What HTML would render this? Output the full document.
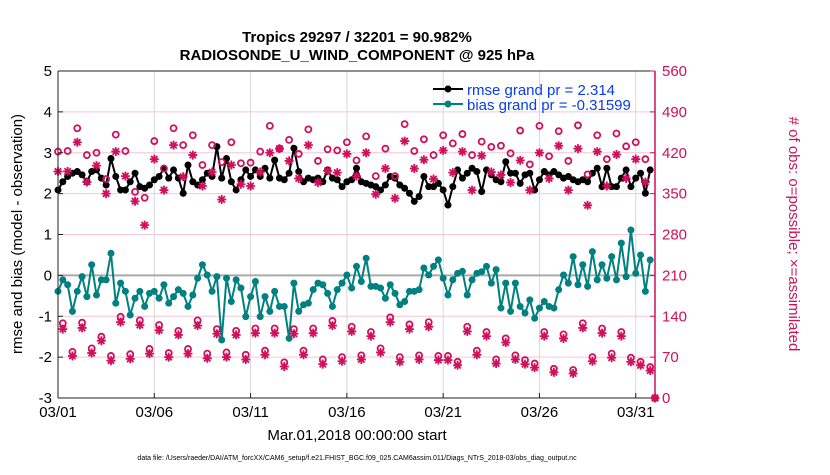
<!DOCTYPE html>
<html><head><meta charset="utf-8"><style>
body{margin:0;background:#fff;}
svg text{font-family:"Liberation Sans",sans-serif;}
</style></head><body>
<svg id="chart" width="830" height="470" xmlns="http://www.w3.org/2000/svg">
<g id="grid"></g>
<g id="series"></g>
<g id="axes"></g>
<text x="357" y="42" text-anchor="middle" font-size="15" font-weight="bold">Tropics 29297 / 32201 = 90.982%</text>
<text x="357" y="60" text-anchor="middle" font-size="15" font-weight="bold">RADIOSONDE_U_WIND_COMPONENT @ 925 hPa</text>
<text x="357" y="440" text-anchor="middle" font-size="15">Mar.01,2018 00:00:00 start</text>
<text transform="translate(22,234) rotate(-90)" text-anchor="middle" font-size="15">rmse and bias (model - observation)</text>
<text transform="translate(789,234) rotate(90)" text-anchor="middle" font-size="15" fill="#d0105a"># of obs: o=possible; ×=assimilated</text>
<text x="357" y="460" text-anchor="middle" font-size="7">data file: /Users/raeder/DAI/ATM_forcXX/CAM6_setup/f.e21.FHIST_BGC.f09_025.CAM6assim.011/Diags_NTrS_2018-03/obs_diag_output.nc</text>
<g>
<line x1="433" y1="89" x2="463" y2="89" stroke="#000" stroke-width="2"/><circle cx="448" cy="89" r="3.5" fill="#000"/>
<text x="467" y="95" font-size="15" fill="#0a3cf0">rmse grand pr = 2.314</text>
<line x1="433" y1="104" x2="463" y2="104" stroke="#008080" stroke-width="2"/><circle cx="448" cy="104" r="3.5" fill="#008080"/>
<text x="467" y="110" font-size="15" fill="#0a3cf0">bias grand pr = -0.31599</text>
</g>
</svg>
<script>
const rmse=[2.09,2.29,2.42,2.50,2.54,2.46,2.29,2.54,2.58,2.38,2.21,2.86,2.42,2.09,2.09,2.29,2.50,2.17,2.13,2.21,2.34,2.42,2.62,2.38,2.58,2.38,2.01,2.70,2.29,2.21,2.34,2.50,2.42,3.15,2.38,2.86,2.29,2.09,2.34,2.58,2.42,
2.58,2.42,2.62,2.38,2.82,2.38,2.34,2.50,3.11,2.54,2.29,2.38,2.34,2.38,2.29,2.58,2.38,2.34,2.17,2.29,2.34,2.62,2.29,2.25,2.21,2.17,2.09,2.21,2.42,2.38,2.21,2.13,2.01,1.81,1.93,2.42,2.17,2.17,2.25,2.09,1.72,2.17,2.58,2.38,
2.50,2.62,2.54,2.05,2.58,2.46,2.34,2.29,2.78,2.50,2.50,2.25,2.46,2.50,2.09,2.34,2.54,2.46,2.54,2.46,2.38,2.42,2.34,2.29,2.34,2.29,2.50,2.62,2.17,2.62,2.17,2.17,2.38,2.58,2.17,2.38,2.50,2.01,2.58];
const bias=[-0.39,-0.11,-0.23,-0.88,-0.39,-0.03,-0.52,0.26,-0.48,-0.11,-0.11,0.54,-0.68,-0.19,-0.39,-0.97,-0.56,-0.39,-0.76,-0.44,-0.39,-0.56,-0.23,-0.68,-0.52,-0.35,-0.44,-0.76,-0.48,-0.07,0.26,0.01,-0.39,-0.03,-1.58,-0.07,-0.64,-0.11,-0.31,-1.01,-0.52,
-0.15,-1.01,-0.52,-0.88,-0.39,-0.76,-0.76,-1.54,-0.19,-0.88,-0.72,-0.68,-0.35,-0.19,-0.23,-0.44,-0.76,-0.35,-0.19,0.01,-0.31,0.22,-0.15,0.42,-0.27,-0.27,-0.31,-0.56,-0.23,-0.44,-0.72,-0.64,-0.39,-0.39,-0.35,0.18,0.01,0.22,0.38,-0.07,-0.48,-0.11,0.05,0.10,
-0.48,-0.11,0.05,0.09,0.22,-0.19,0.14,-0.80,-0.19,-0.88,-0.19,-0.76,-0.92,-0.60,-1.05,-0.80,-0.64,-0.76,-0.80,-0.35,0.01,-0.19,0.46,-0.23,0.26,-0.27,0.58,-0.11,0.26,-0.07,0.46,-0.11,0.79,-0.03,1.11,0.05,0.50,-0.39,0.38];
const highPoss=[422,423,462,416,420,375,451,423,353,343,440,393,462,433,450,399,433,404,438,402,403,422,
466,427,442,418,460,406,426,424,438,407,448,380,427,380,469,423,443,416,450,436,
452,416,439,430,432,419,458,400,466,414,457,406,467,383,450,409,453,431,438,409,0];
const highAssim=[388,388,438,370,398,350,422,380,337,296,409,356,433,379,416,363,387,340,399,366,363,387,
420,427,406,376,433,369,389,386,418,380,420,349,393,342,440,393,408,375,424,386,
422,356,415,387,382,369,407,356,420,376,432,356,427,330,422,363,417,376,409,370,0];
const lowPoss=[128,79,129,85,105,72,139,75,133,84,125,77,115,84,133,76,118,78,115,74,119,
81,119,61,118,81,119,66,132,70,122,73,113,85,138,70,126,73,130,72,72,
62,122,81,113,66,102,73,65,59,113,50,109,48,128,70,119,76,113,69,62,53];
const lowAssim=[118,72,120,77,98,64,130,67,125,76,116,70,108,76,124,68,110,70,108,66,111,
74,111,54,110,74,111,58,124,63,114,66,106,78,130,62,118,66,122,65,65,
56,114,74,106,59,95,66,58,52,106,44,102,42,120,63,111,69,106,62,56,47];
const xTickLabels=["03/01","03/06","03/11","03/16","03/21","03/26","03/31"];
const xTickDays=[0,5,10,15,20,25,30];
const yLeftTicks=[-3,-2,-1,0,1,2,3,4,5];
const yRightTicks=[0,70,140,210,280,350,420,490,560];

const X0=58,X1=655,Y0=71,Y1=398,DAYS=31;
const xs=d=>X0+d*(X1-X0)/DAYS;
const yl=v=>Y1-(v+3)*(Y1-Y0)/8;
const yr=v=>Y1-v*(Y1-Y0)/560;
const NS="http://www.w3.org/2000/svg";
function mk(tag,attrs,parent){const e=document.createElementNS(NS,tag);for(const k in attrs)e.setAttribute(k,attrs[k]);parent.appendChild(e);return e;}
const grid=document.getElementById('grid'),ser=document.getElementById('series'),ax=document.getElementById('axes');
const RED="#d0105a";
yRightTicks.forEach(t=>{if(t>0&&t<560){const l=mk('line',{x1:X0,x2:X1,y1:yr(t),y2:yr(t),stroke:'#f5c6d8','stroke-width':1},grid);

}});
xTickDays.forEach(d=>{if(d>0){const l=mk('line',{x1:xs(d),x2:xs(d),y1:Y0,y2:Y1,stroke:'#d8d8d8','stroke-width':1},grid);

}});
const zl=mk('line',{x1:X0,x2:X1,y1:yl(0),y2:yl(0),stroke:'#aaa','stroke-width':2},grid);



function line(arr,color,name){const g=mk('g',{},ser);


const pts=arr.map((v,i)=>xs(i*0.25)+','+yl(v)).join(' ');
mk('polyline',{points:pts,fill:'none',stroke:color,'stroke-width':2},g);
arr.forEach((v,i)=>{const c=mk('circle',{cx:xs(i*0.25),cy:yl(v),r:3.5,fill:color},g);

});}
line(bias,'#008080','bias-series');
line(rmse,'#000','rmse-series');

function star(cx,cy,g){const p=[];for(let k=0;k<4;k++){const a=k*Math.PI/4;p.push(`M${cx-4.5*Math.cos(a)},${cy-4.5*Math.sin(a)}L${cx+4.5*Math.cos(a)},${cy+4.5*Math.sin(a)}`);}
const s=mk('path',{d:p.join(''),stroke:RED,'stroke-width':1.8,fill:'none'},g);

}
function circ(cx,cy,g){const c=mk('circle',{cx:cx,cy:cy,r:3,fill:'none',stroke:RED,'stroke-width':1.8},g);

}
const og=mk('g',{},ser);


highPoss.forEach((v,i)=>circ(xs(i*0.5),yr(v),og));
highAssim.forEach((v,i)=>star(xs(i*0.5),yr(v),og));
lowPoss.forEach((v,i)=>circ(xs(0.25+i*0.5),yr(v),og));
lowAssim.forEach((v,i)=>star(xs(0.25+i*0.5),yr(v),og));

mk('line',{x1:X0,x2:X1,y1:Y0,y2:Y0,stroke:'#222','stroke-width':1},ax);
mk('line',{x1:X0,x2:X1,y1:Y1,y2:Y1,stroke:'#222','stroke-width':1},ax);
mk('line',{x1:X0,x2:X0,y1:Y0,y2:Y1,stroke:'#222','stroke-width':1},ax);
mk('line',{x1:X1,x2:X1,y1:Y0,y2:Y1,stroke:RED,'stroke-width':1.5},ax);
yLeftTicks.forEach(t=>{mk('line',{x1:X0,x2:X0+5,y1:yl(t),y2:yl(t),stroke:'#222'},ax);
const tx=mk('text',{x:X0-6,y:yl(t)+5,'text-anchor':'end','font-size':15},ax);tx.textContent=t;

});
yRightTicks.forEach(t=>{mk('line',{x1:X1-5,x2:X1,y1:yr(t),y2:yr(t),stroke:RED},ax);
const tx=mk('text',{x:X1+7,y:yr(t)+5,'font-size':15,fill:RED},ax);tx.textContent=t;

});
xTickDays.forEach((d,i)=>{mk('line',{x1:xs(d),x2:xs(d),y1:Y1,y2:Y1-5,stroke:'#222'},ax);
const tx=mk('text',{x:xs(d),y:Y1+19,'text-anchor':'middle','font-size':15},ax);tx.textContent=xTickLabels[i];

});
</script>
</body></html>
